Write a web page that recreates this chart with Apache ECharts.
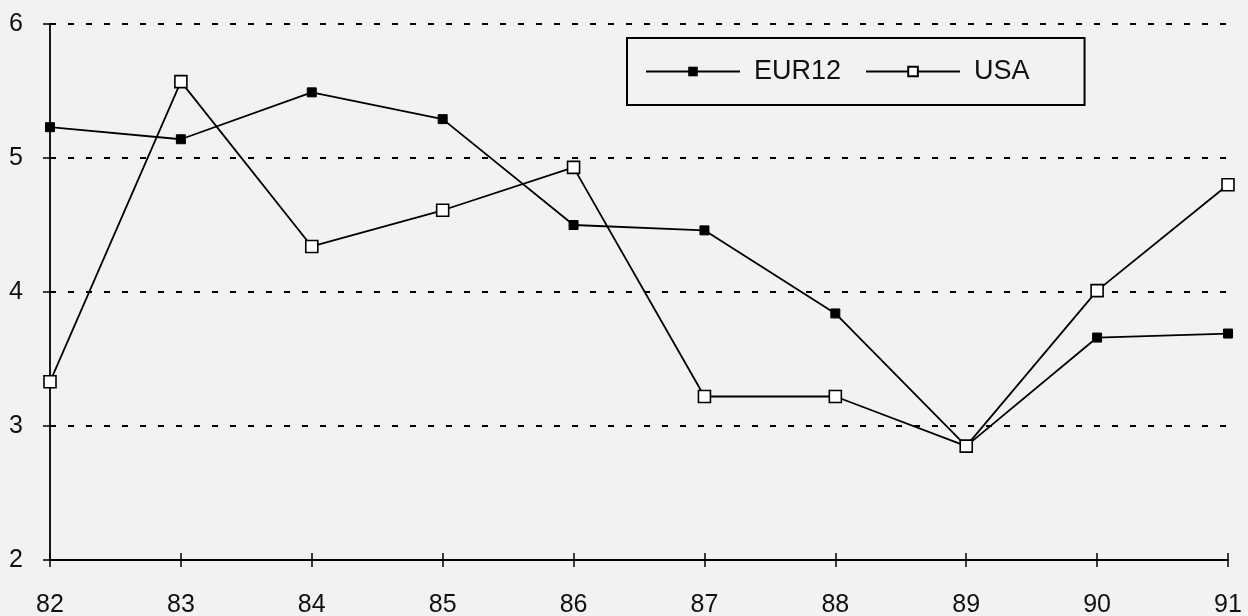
<!DOCTYPE html>
<html><head><meta charset="utf-8">
<script src="https://cdn.jsdelivr.net/npm/echarts@6/dist/echarts.min.js"></script>
<style>html,body{margin:0;padding:0;background:#f2f2f2}#c{width:1248px;height:616px}</style>
</head><body><div id="c"></div>
<script>
const years = ['82','83','84','85','86','87','88','89','90','91'];
const eur12 = [5.23, 5.14, 5.49, 5.29, 4.50, 4.46, 3.84, 2.85, 3.66, 3.69];
const usa   = [3.33, 5.57, 4.34, 4.61, 4.93, 3.22, 3.22, 2.85, 4.01, 4.80];
const yTicks = [2, 3, 4, 5, 6];

const chart = echarts.init(document.getElementById('c'));
const font = 'Liberation Sans';
const baseX = {
  type: 'category', data: years, boundaryGap: false,
  axisLine: { lineStyle: { color: '#000', width: 1.8 } },
  splitLine: { show: false }
};
chart.setOption({
  backgroundColor: '#f2f2f2',
  animation: false,
  grid: { left: 50, right: 20, top: 24, bottom: 56, outerBoundsMode: 'none' },
  legend: {
    left: 627, top: 38,
    padding: [20, 55, 20, 18],
    borderColor: '#000', borderWidth: 2,
    itemWidth: 94, itemHeight: 12, itemGap: 24,
    textStyle: { fontFamily: font, fontSize: 27, color: '#111', padding: [0, 0, 0, 9] },
    data: ['EUR12', 'USA']
  },
  xAxis: [
    Object.assign({}, baseX, {
      axisTick: { show: true, inside: false, length: 7, lineStyle: { color: '#000', width: 1.5 } },
      axisLabel: { fontFamily: font, fontSize: 25, color: '#111', margin: 33 }
    }),
    Object.assign({}, baseX, {
      position: 'bottom',
      axisTick: { show: true, inside: true, length: 7, lineStyle: { color: '#000', width: 1.5 } },
      axisLabel: { show: false }
    })
  ],
  yAxis: [{
    type: 'value', min: 2, max: 6, interval: 1,
    axisLine: { show: true, lineStyle: { color: '#000', width: 1.8 } },
    axisTick: { show: true, inside: false, length: 7, lineStyle: { color: '#000', width: 1.5 } },
    axisLabel: { fontFamily: font, fontSize: 25, color: '#111', margin: 27,
      formatter: v => yTicks.includes(v) ? String(v) : '' },
    splitLine: { show: true, lineStyle: { color: '#000', width: 1.8, type: [6, 12] } }
  }],
  series: [
    {
      name: 'EUR12', type: 'line', data: eur12,
      symbol: 'rect', symbolSize: 9,
      lineStyle: { color: '#000', width: 1.8 },
      itemStyle: { color: '#000', borderColor: '#000' },
      z: 3
    },
    {
      name: 'USA', type: 'line', data: usa,
      symbol: 'rect', symbolSize: 12,
      lineStyle: { color: '#000', width: 1.8 },
      itemStyle: { color: '#fff', borderColor: '#000', borderWidth: 1.6 },
      z: 4
    }
  ]
});
</script></body></html>
